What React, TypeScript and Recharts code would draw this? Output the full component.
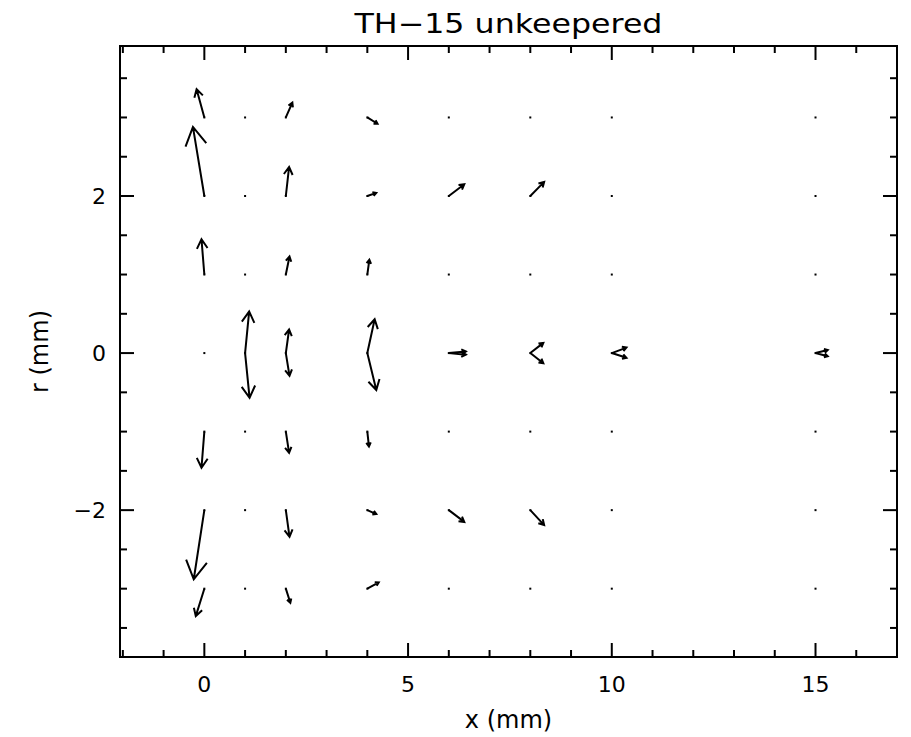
import React from 'react';
import { ComposedChart, XAxis, YAxis, Line, Scatter, ReferenceArea } from 'recharts';

// ---------- data ----------
const gridX = [0, 1, 2, 4, 6, 8, 10, 15];
const gridR = [3, 2, 1, 0, -1, -2, -3];

// arrow tails (grid points) and tips, in data units (mm)
const tailX = [0, 0, 0, 0, 0, 0, 1, 1, 2, 2, 2, 2, 2, 2, 2, 2, 4, 4, 4, 4, 4, 4, 4, 4, 6, 6, 6, 6, 8, 8, 8, 8, 10, 10, 15, 15];
const tailR = [3, 2, 1, -1, -2, -3, 0, 0, 3, 2, 1, 0, 0, -1, -2, -3, 3, 2, 1, 0, 0, -1, -2, -3, 2, 0, 0, -2, 2, 0, 0, -2, 0, 0, 0, 0];
const tipX = [-0.19, -0.28, -0.07, -0.07, -0.26, -0.21, 1.1, 1.11, 2.16, 2.08, 2.09, 2.08, 2.09, 2.08, 2.09, 2.11, 4.25, 4.22, 4.05, 4.18, 4.22, 4.04, 4.22, 4.28, 6.38, 6.42, 6.42, 6.38, 8.34, 8.32, 8.32, 8.34, 10.36, 10.36, 15.3, 15.3];
const tipR = [3.36, 2.88, 1.45, -1.46, -2.88, -3.35, 0.53, -0.57, 3.19, 2.37, 1.23, 0.3, -0.29, -1.27, -2.34, -3.18, 2.92, 2.04, 1.19, 0.43, -0.47, -1.19, -2.05, -2.92, 2.15, 0.02, -0.02, -2.15, 2.18, 0.13, -0.13, -2.19, 0.07, -0.06, 0.04, -0.04];

const xTicks = [-2, -1, 0, 1, 2, 3, 4, 5, 6, 7, 8, 9, 10, 11, 12, 13, 14, 15, 16, 17];
const xMajor = [0, 5, 10, 15];
const yTicks = [-3.5, -3, -2.5, -2, -1.5, -1, -0.5, 0, 0.5, 1, 1.5, 2, 2.5, 3, 3.5];
const yMajor = [-2, 0, 2];

const title = 'TH\u221215 unkeepered';
const xTitle = 'x (mm)';
const yTitle = 'r (mm)';

// ---------- layout ----------
const W = 911;
const H = 737;
const PLOT_LEFT = 120;
const PLOT_RIGHT = 897;
const PLOT_TOP = 46;
const PLOT_BOTTOM = 657;
const X_DOMAIN: [number, number] = [-2.07, 17];
const Y_DOMAIN: [number, number] = [-3.87, 3.91];
const PX_PER_X = (PLOT_RIGHT - PLOT_LEFT) / (X_DOMAIN[1] - X_DOMAIN[0]);
const PX_PER_R = (PLOT_BOTTOM - PLOT_TOP) / (Y_DOMAIN[1] - Y_DOMAIN[0]);
const FONT = "'DejaVu Sans', sans-serif";

// build arrow polylines (shaft + head barbs), separated by null gaps
type Pt = { x: number; y: number | null };
const arrowData: Pt[] = [];
for (let i = 0; i < tailX.length; i++) {
  const x0 = tailX[i], r0 = tailR[i], x1 = tipX[i], r1 = tipR[i];
  const dx = (x1 - x0) * PX_PER_X;
  const dy = (r1 - r0) * PX_PER_R;
  const L = Math.hypot(dx, dy);
  const h = Math.max(0.3 * L, 4);
  const ang = Math.atan2(dy, dx);
  const a1 = ang + Math.PI - Math.PI / 6;
  const a2 = ang + Math.PI + Math.PI / 6;
  arrowData.push({ x: x0, y: r0 }, { x: x1, y: r1 }, { x: x1, y: null });
  arrowData.push(
    { x: x1 + (h * Math.cos(a1)) / PX_PER_X, y: r1 + (h * Math.sin(a1)) / PX_PER_R },
    { x: x1, y: r1 },
    { x: x1 + (h * Math.cos(a2)) / PX_PER_X, y: r1 + (h * Math.sin(a2)) / PX_PER_R },
    { x: x1, y: null }
  );
}

const gridPoints = gridX.flatMap((x) => gridR.map((r) => ({ x, y: r })));

const XTick = (props: any) => {
  const { x, payload } = props;
  const v = payload.value;
  const major = xMajor.includes(v);
  const len = major ? 14 : 7;
  return (
    <g>
      <line x1={x} x2={x} y1={PLOT_BOTTOM} y2={PLOT_BOTTOM - len} stroke="#000" strokeWidth={2} />
      <line x1={x} x2={x} y1={PLOT_TOP} y2={PLOT_TOP + len} stroke="#000" strokeWidth={2} />
      {major && (
        <text x={x} y={PLOT_BOTTOM + 35} textAnchor="middle" fontFamily={FONT} fontSize={22} fill="#000">
          {String(v)}
        </text>
      )}
    </g>
  );
};

const YTick = (props: any) => {
  const { y, payload } = props;
  const v = payload.value;
  const major = yMajor.includes(v);
  const len = major ? 14 : 7;
  return (
    <g>
      <line x1={PLOT_LEFT} x2={PLOT_LEFT + len} y1={y} y2={y} stroke="#000" strokeWidth={2} />
      <line x1={PLOT_RIGHT} x2={PLOT_RIGHT - len} y1={y} y2={y} stroke="#000" strokeWidth={2} />
      {major && (
        <text x={PLOT_LEFT - 14} y={y + 8} textAnchor="end" fontFamily={FONT} fontSize={22} fill="#000">
          {v < 0 ? '\u2212' + String(-v) : String(v)}
        </text>
      )}
    </g>
  );
};

const Dot = (props: any) => {
  const { cx, cy } = props;
  if (cx == null || cy == null) return <g />;
  return <rect x={cx - 1} y={cy - 1} width={2} height={2} fill="#000" />;
};

export default function App() {
  return (
    <div style={{ position: 'absolute', left: 0, top: 0, width: W, height: H, background: '#fff' }}>
      <ComposedChart
        width={W}
        height={H}
        margin={{ top: PLOT_TOP, right: W - PLOT_RIGHT, bottom: 0, left: 0 }}
      >
        <XAxis
          type="number"
          dataKey="x"
          domain={X_DOMAIN}
          allowDataOverflow
          ticks={xTicks}
          interval={0}
          height={H - PLOT_BOTTOM}
          tickSize={0}
          tickMargin={0}
          axisLine={false}
          tickLine={false}
          tick={<XTick />}
        />
        <YAxis
          type="number"
          dataKey="y"
          domain={Y_DOMAIN}
          allowDataOverflow
          ticks={yTicks}
          interval={0}
          width={PLOT_LEFT}
          tickSize={0}
          tickMargin={0}
          axisLine={false}
          tickLine={false}
          tick={<YTick />}
        />
        <ReferenceArea
          x1={X_DOMAIN[0]}
          x2={X_DOMAIN[1]}
          y1={Y_DOMAIN[0]}
          y2={Y_DOMAIN[1]}
          fill="none"
          fillOpacity={0}
          stroke="#000"
          strokeWidth={2}
          ifOverflow="visible"
        />
        <Scatter data={gridPoints} dataKey="y" shape={<Dot />} isAnimationActive={false} />
        <Line
          data={arrowData}
          dataKey="y"
          type="linear"
          stroke="#000"
          strokeWidth={2}
          dot={false}
          activeDot={false}
          connectNulls={false}
          isAnimationActive={false}
          strokeLinejoin="miter"
        />
      </ComposedChart>
      <svg
        width={W}
        height={H}
        style={{ position: 'absolute', left: 0, top: 0, pointerEvents: 'none' }}
      >
        <text x={(PLOT_LEFT + PLOT_RIGHT) / 2} y={33} textAnchor="middle" fontFamily={FONT} fontSize={27} textLength={308} lengthAdjust="spacingAndGlyphs" fill="#000">
          {title}
        </text>
        <text x={(PLOT_LEFT + PLOT_RIGHT) / 2} y={728} textAnchor="middle" fontFamily={FONT} fontSize={24} fill="#000">
          {xTitle}
        </text>
        <text
          x={0}
          y={0}
          transform={`translate(48, ${(PLOT_TOP + PLOT_BOTTOM) / 2}) rotate(-90)`}
          textAnchor="middle"
          fontFamily={FONT}
          fontSize={24}
          fill="#000"
        >
          {yTitle}
        </text>
      </svg>
    </div>
  );
}
